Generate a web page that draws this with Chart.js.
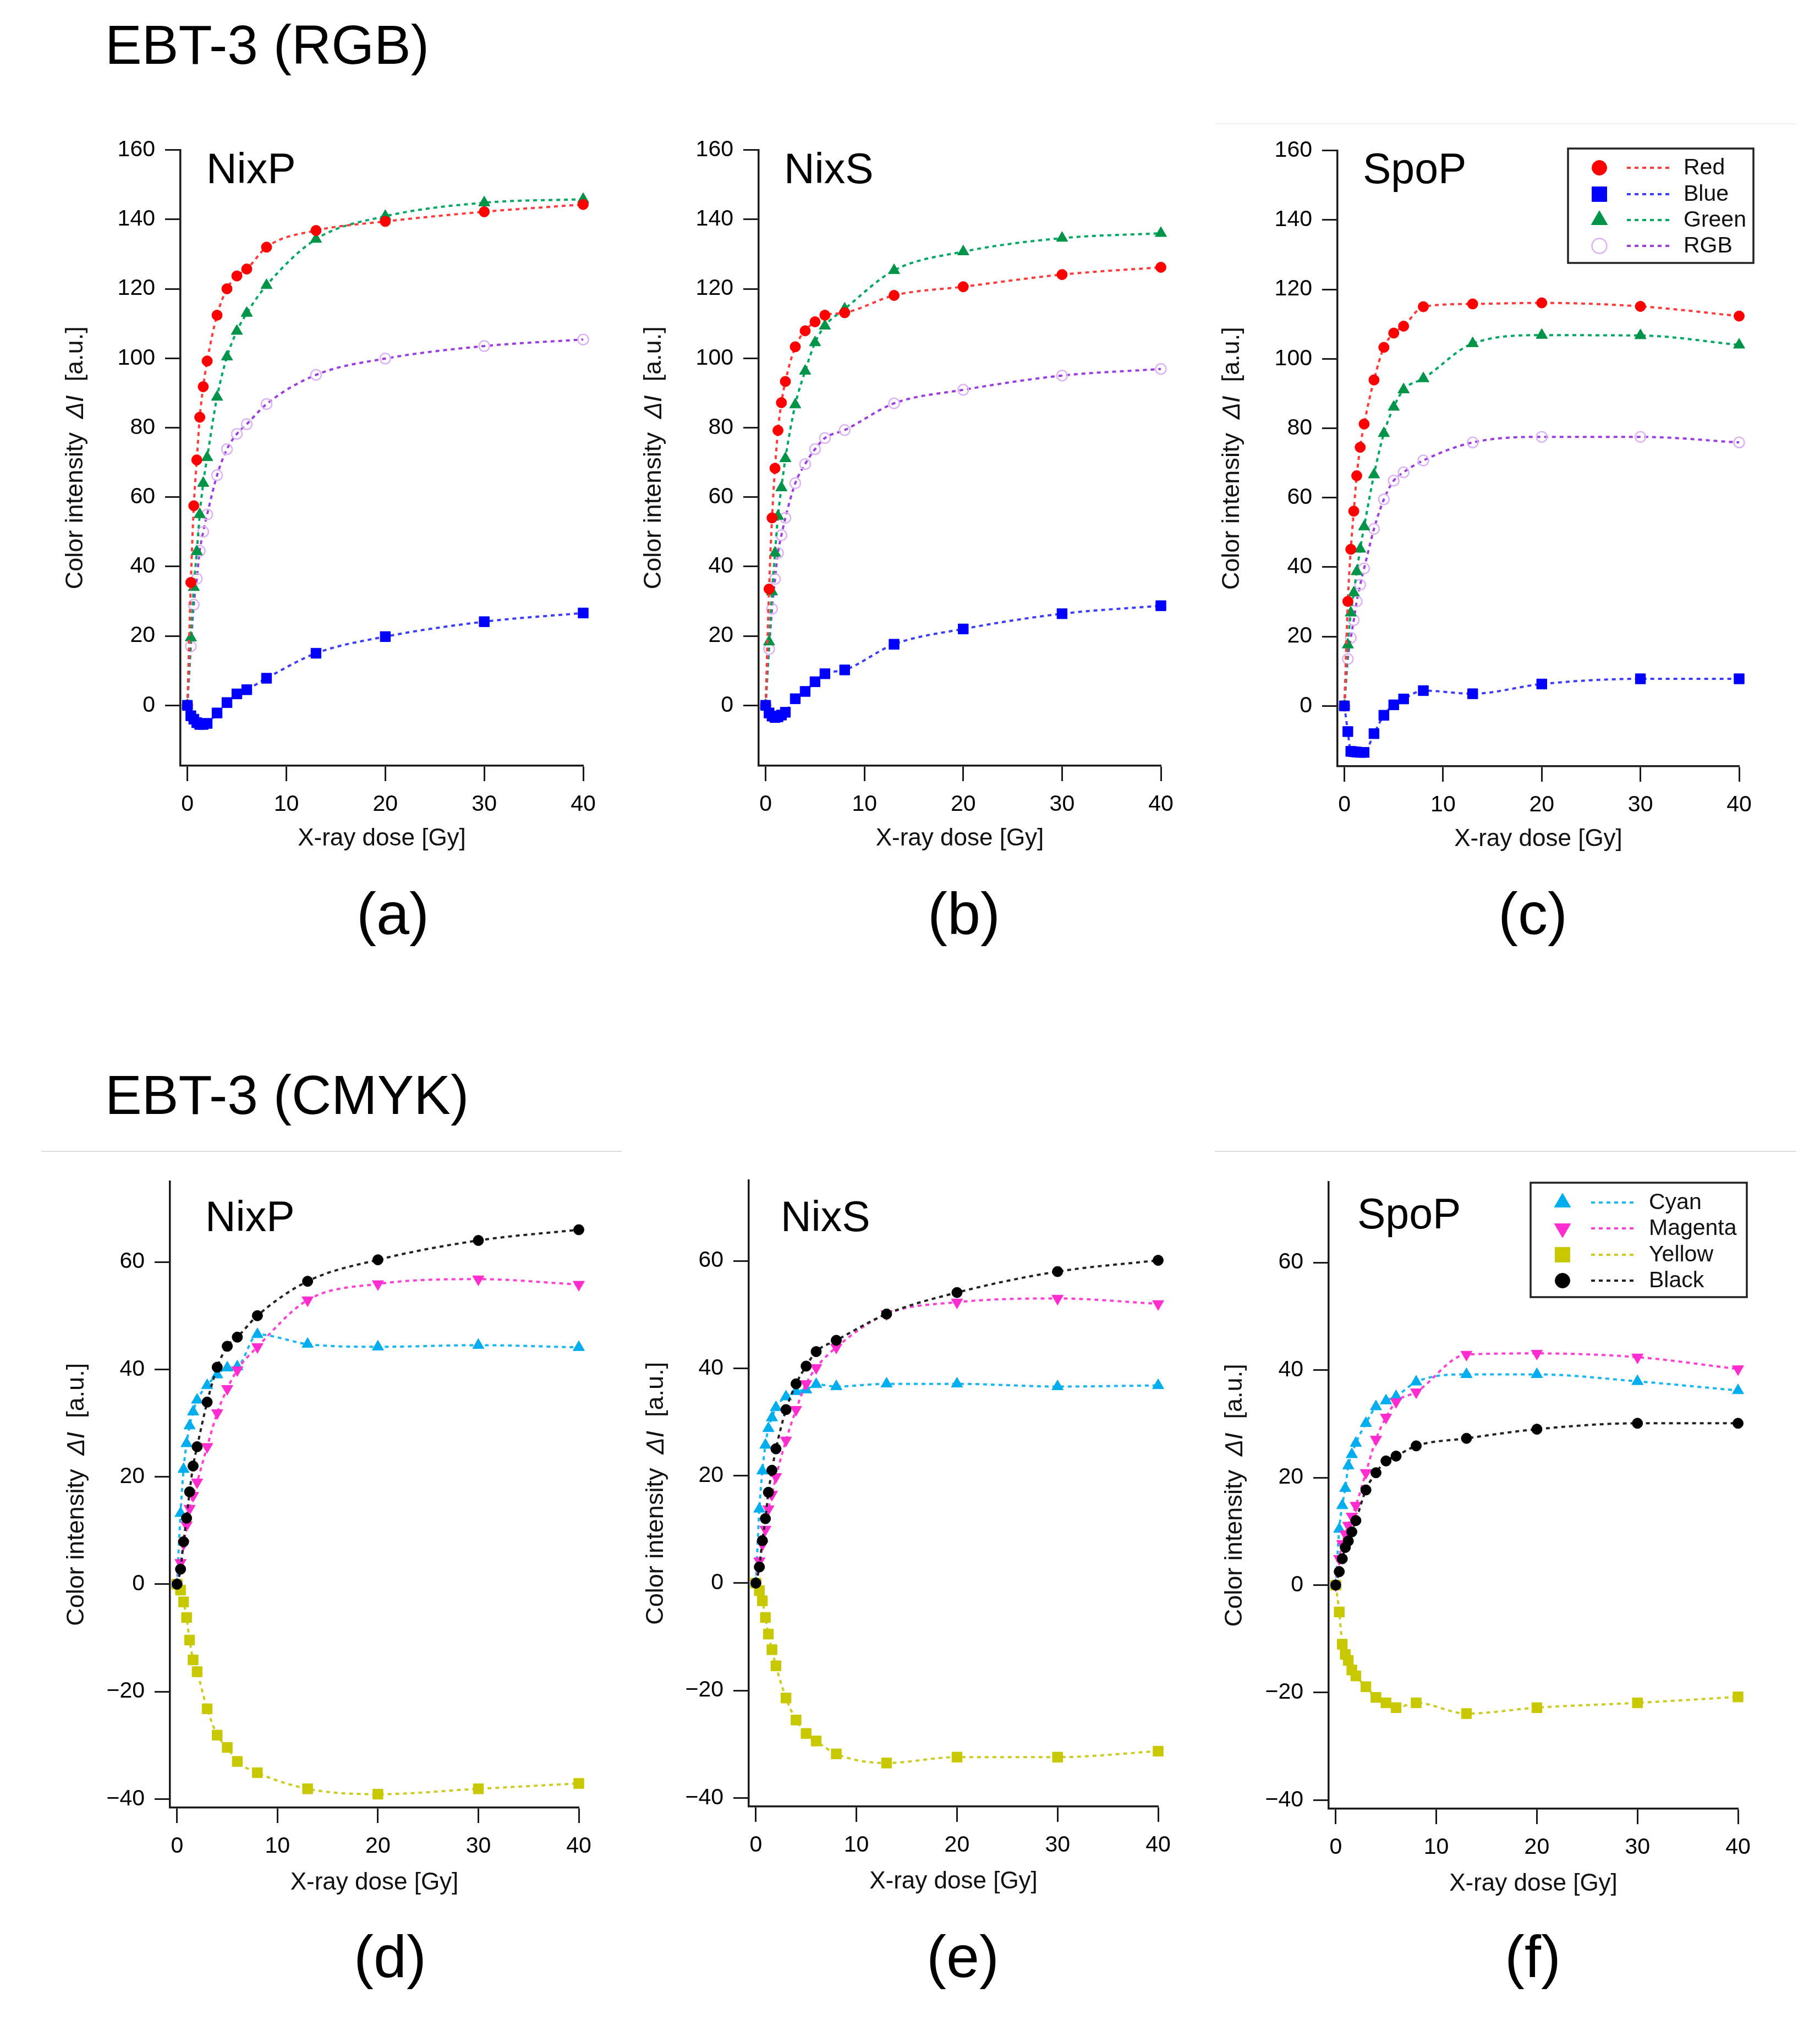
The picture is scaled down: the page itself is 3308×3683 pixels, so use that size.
<!DOCTYPE html>
<html>
<head>
<meta charset="utf-8">
<script src="https://cdn.jsdelivr.net/npm/chart.js@4.4.1/dist/chart.umd.min.js"></script>
<style>
  body { margin: 0; background: #fff; width: 3308px; height: 3683px; position: relative; overflow: hidden;
         font-family: "Liberation Sans", Arial, sans-serif; }
  .t { position: absolute; white-space: nowrap; color: #000; line-height: 1; }
  canvas { position: absolute; }
  .sep { position: absolute; height: 2px; background: #dedede; }
</style>
</head>
<body>
<div class="sep" style="left:2208px;top:224px;width:1057px;background:#f0f0f0"></div>
<div class="sep" style="left:75px;top:2092px;width:1055px"></div>
<div class="sep" style="left:2208px;top:2092px;width:1057px"></div>
<script>
// ---- data ----
const doses = [0, 0.35, 0.65, 0.95, 1.25, 1.6, 2, 3, 4, 5, 6, 8, 13, 20, 30, 40];
const xTicks = [0, 10, 20, 30, 40];
const yTicksRGB = [0, 20, 40, 60, 80, 100, 120, 140, 160];
const yTicksCMYK = [-40, -20, 0, 20, 40, 60];

// (a) NixP, RGB
const redA   = [0, 35.4, 57.5, 70.7, 83, 91.8, 99.2, 112.4, 120, 123.7, 125.7, 132, 136.8, 139.4, 142.2, 144.3];
const blueA  = [0, -3, -4, -5, -5.5, -5.5, -5.2, -2.2, 0.8, 3.3, 4.5, 7.8, 15, 19.8, 24.1, 26.6];
const greenA = [0, 19.5, 34, 44.3, 55, 64, 71.4, 88.8, 100.4, 107.8, 113, 121, 134.3, 140.9, 144.8, 145.8];
const rgbA   = [0, 17, 29, 36.5, 44.5, 50, 55, 66.3, 73.8, 78.2, 81, 86.8, 95.2, 99.9, 103.5, 105.4];
// (b) NixS, RGB
const redB   = [0, 33.5, 54, 68.3, 79.2, 87.2, 93.3, 103.3, 107.9, 110.5, 112.4, 113.1, 118.1, 120.6, 124.1, 126.2];
const blueB  = [0, -2.2, -3.1, -3.5, -3.3, -2.8, -2, 1.9, 4, 6.8, 9.1, 10.2, 17.6, 22, 26.4, 28.7];
const greenB = [0, 18.3, 32.7, 43.9, 54.5, 62.7, 71.1, 86.6, 96.3, 104.5, 109.3, 114.2, 125.3, 130.7, 134.6, 136];
const rgbB   = [0, 16.2, 27.8, 36.4, 43.9, 49, 54, 64, 69.5, 73.8, 77, 79.3, 87, 90.9, 95, 96.9];
// (c) SpoP, RGB
const redC   = [0, 30.1, 45.1, 56.1, 66.3, 74.5, 81.2, 93.9, 103.3, 107.4, 109.4, 115, 115.8, 116.1, 115.1, 112.3];
const blueC  = [0, -7.4, -13.1, -13.2, -13.3, -13.4, -13.4, -8, -2.7, 0.3, 2, 4.4, 3.5, 6.3, 7.8, 7.8];
const greenC = [0, 17.6, 26.8, 32.6, 38.7, 45.2, 51.6, 66.6, 78.5, 86.1, 91.1, 94.3, 104.4, 106.8, 106.7, 104];
const rgbC   = [0, 13.5, 19.6, 24.7, 30.1, 34.9, 39.6, 51, 59.5, 64.9, 67.3, 70.7, 75.9, 77.5, 77.5, 75.9];
// (d) NixP, CMYK
const cyanD    = [0, 13.2, 21.4, 26.2, 29.5, 32.1, 34.3, 37, 39, 40.3, 40.5, 46.5, 44.7, 44.2, 44.5, 44.1];
const magentaD = [0, 4, 7.5, 11, 14.1, 16.5, 19, 25.6, 31.9, 36.4, 39.9, 44.2, 52.9, 55.9, 56.8, 55.8];
const yellowD  = [0, -1.1, -3.3, -6.2, -10.4, -14.1, -16.3, -23.2, -28.1, -30.4, -33, -35.1, -38.1, -39.1, -38.1, -37.1];
const blackD   = [0, 2.8, 7.9, 12.3, 17.2, 22, 25.6, 33.9, 40.4, 44.3, 46, 50, 56.4, 60.4, 64, 66];
// (e) NixS, CMYK
const cyanE    = [0, 13.8, 20.9, 25.7, 28.8, 30.8, 32.7, 34.7, 35.7, 36, 37, 36.6, 37.1, 37.1, 36.6, 36.8];
const magentaE = [0, 4.1, 7.2, 10, 13.8, 16.5, 19.8, 26.6, 32.3, 37.1, 40.1, 43.9, 50.1, 52.3, 53, 52];
const yellowE  = [0, -1.4, -3.3, -6.4, -9.5, -12.4, -15.4, -21.4, -25.5, -28, -29.4, -31.8, -33.5, -32.4, -32.4, -31.3];
const blackE   = [0, 3, 7.9, 12, 16.9, 21, 25, 32.3, 37.1, 40.4, 43.1, 45.2, 50.1, 54.1, 58, 60.1];
// (f) SpoP, CMYK
const cyanF    = [0, 10.4, 14.8, 18, 22.2, 24.3, 26.4, 30.1, 33.2, 34.3, 35.1, 37.8, 39.2, 39.2, 37.9, 36.2];
const magentaF = [0, 4.9, 7.7, 9.5, 11.1, 12.8, 14.8, 20.9, 27.1, 31.2, 34.1, 35.9, 42.9, 43.1, 42.4, 40.2];
const yellowF  = [0, -5, -11, -12.9, -14, -15.8, -16.9, -18.9, -20.9, -21.9, -22.8, -21.9, -23.9, -22.8, -21.9, -20.8];
const blackF   = [0, 2.5, 4.9, 7, 8.2, 9.9, 12, 17.7, 20.9, 23.1, 24, 25.9, 27.3, 29, 30.1, 30.1];

// ---- styles ----
const FONT = '"Liberation Sans", Arial, sans-serif';
const STYLE = {
  Red:     { pt: 'circle',   r: 9.5, fill: '#ff0000', stroke: '#ff0000', line: '#ff3b3b', lr: 13.5, order: 1 },
  Blue:    { pt: 'rect',     r: 13,  fill: '#0000ff', stroke: '#0000ff', line: '#3c3cff', lr: 19, order: 0 },
  Green:   { pt: 'triangle', r: 12,  fill: '#009448', stroke: '#009448', line: '#00a862', lr: 17, order: 2 },
  RGB:     { pt: 'circle',   r: 9.5, fill: 'rgba(255,255,255,0)', stroke: '#dcb3f4', line: '#9c3de0', lr: 13.5, bw: 2.5, order: 3 },
  Cyan:    { pt: 'triangle', r: 12,  fill: '#00aeef', stroke: '#00aeef', line: '#1ab8f2', lr: 17, order: 3 },
  Magenta: { pt: 'triangle', r: 12,  rot: 180, fill: '#ff2ccf', stroke: '#ff2ccf', line: '#ff40d2', lr: 17, order: 2 },
  Yellow:  { pt: 'rect',     r: 13,  fill: '#c8c800', stroke: '#c8c800', line: '#cccc22', lr: 19, order: 1 },
  Black:   { pt: 'circle',   r: 9.5, fill: '#000000', stroke: '#000000', line: '#222222', lr: 13.5, order: 0 }
};

const panels = [
  { name: 'NixP', letter: '(a)', area: [328, 270, 1060, 1392], yRange: [-17.4, 160], yTicks: yTicksRGB, titleDx: 190, xH: 163,
    nameAt: [375, 268], letterAt: [714, 1607],
    series: [['Red', redA], ['Blue', blueA], ['Green', greenA], ['RGB', rgbA]] },
  { name: 'NixS', letter: '(b)', area: [1379, 270, 2110, 1392], yRange: [-17.4, 160], yTicks: yTicksRGB, titleDx: 190, xH: 163,
    nameAt: [1425, 268], letterAt: [1752, 1607],
    series: [['Red', redB], ['Blue', blueB], ['Green', greenB], ['RGB', rgbB]] },
  { name: 'SpoP', letter: '(c)', area: [2431, 271, 3161, 1393], yRange: [-17.4, 160], yTicks: yTicksRGB, titleDx: 191, xH: 163,
    nameAt: [2477, 268], letterAt: [2786, 1607],
    series: [['Red', redC], ['Blue', blueC], ['Green', greenC], ['RGB', rgbC]],
    legend: { box: [2850, 270, 3187, 478], rows: [305, 353, 400, 447], mx: 2907, l1: 2957, l2: 3038, tx: 3060 } },
  { name: 'NixP', letter: '(d)', area: [309, 2145, 1052, 3286], yRange: [-41.6, 75], yTicks: yTicksCMYK, titleDx: 169, xH: 167,
    nameAt: [373, 2173], letterAt: [709, 3503],
    series: [['Cyan', cyanD], ['Magenta', magentaD], ['Yellow', yellowD], ['Black', blackD]] },
  { name: 'NixS', letter: '(e)', area: [1361, 2143, 2105, 3284], yRange: [-41.6, 75], yTicks: yTicksCMYK, titleDx: 168, xH: 167,
    nameAt: [1419, 2173], letterAt: [1750, 3503],
    series: [['Cyan', cyanE], ['Magenta', magentaE], ['Yellow', yellowE], ['Black', blackE]] },
  { name: 'SpoP', letter: '(f)', area: [2415, 2146, 3159, 3288], yRange: [-41.6, 75], yTicks: yTicksCMYK, titleDx: 170, xH: 167,
    nameAt: [2467, 2168], letterAt: [2786, 3503],
    series: [['Cyan', cyanF], ['Magenta', magentaF], ['Yellow', yellowF], ['Black', blackF]],
    legend: { box: [2782, 2150, 3175, 2358], rows: [2186, 2233, 2281, 2328], mx: 2840, l1: 2892, l2: 2975, tx: 2997 } }
];

const PAD_T = 40, PAD_R = 60, AXIS = '#1a1a1a';

function addText(txt, left, top, size, center) {
  const d = document.createElement('div');
  d.className = 't';
  d.textContent = txt;
  d.style.fontSize = size + 'px';
  d.style.top = top + 'px';
  if (center) { d.style.left = (left - 200) + 'px'; d.style.width = '400px'; d.style.textAlign = 'center'; }
  else d.style.left = left + 'px';
  document.body.appendChild(d);
}

function marker(ctx, s, x, y, r) {
  ctx.save();
  ctx.translate(x, y);
  if (s.rot) ctx.rotate(s.rot * Math.PI / 180);
  ctx.beginPath();
  if (s.pt === 'circle') ctx.arc(0, 0, r, 0, Math.PI * 2);
  else if (s.pt === 'rect') { const h = r * Math.SQRT1_2; ctx.rect(-h, -h, 2 * h, 2 * h); }
  else { ctx.moveTo(0, -r); ctx.lineTo(r * 0.866, r / 2); ctx.lineTo(-r * 0.866, r / 2); ctx.closePath(); }
  ctx.fillStyle = s.fill; ctx.fill();
  ctx.lineWidth = s.bw || 1; ctx.strokeStyle = s.stroke; ctx.stroke();
  ctx.restore();
}

// y title with italic "ΔI", and the boxed legend
const decorPlugin = {
  id: 'decor',
  afterDraw(chart, args, o) {
    const ctx = chart.ctx, ca = chart.chartArea;
    const parts = [['Color intensity  ', 'normal'], ['ΔI', 'italic'], ['  [a.u.]', 'normal']];
    ctx.save();
    ctx.translate(ca.left - o.titleDx, (ca.top + ca.bottom) / 2);
    ctx.rotate(-Math.PI / 2);
    ctx.fillStyle = '#111'; ctx.textBaseline = 'middle'; ctx.textAlign = 'left';
    let total = 0;
    parts.forEach(p => { ctx.font = p[1] + ' 45px ' + FONT; total += ctx.measureText(p[0]).width; });
    let x = -total / 2;
    parts.forEach(p => { ctx.font = p[1] + ' 45px ' + FONT; ctx.fillText(p[0], x, 0); x += ctx.measureText(p[0]).width; });
    ctx.restore();

    const lg = o.legend;
    if (!lg) return;
    const ox = o.offset[0], oy = o.offset[1];
    ctx.save();
    ctx.fillStyle = '#fff';
    ctx.fillRect(lg.box[0] - ox, lg.box[1] - oy, lg.box[2] - lg.box[0], lg.box[3] - lg.box[1]);
    ctx.lineWidth = 3.5; ctx.strokeStyle = '#222';
    ctx.strokeRect(lg.box[0] - ox, lg.box[1] - oy, lg.box[2] - lg.box[0], lg.box[3] - lg.box[1]);
    chart.data.datasets.forEach((ds, i) => {
      const s = STYLE[ds.label], y = lg.rows[i] - oy;
      marker(ctx, s, lg.mx - ox, y, s.lr);
      ctx.beginPath();
      ctx.setLineDash([7, 7]); ctx.lineWidth = 4; ctx.strokeStyle = s.line;
      ctx.moveTo(lg.l1 - ox, y); ctx.lineTo(lg.l2 - ox, y); ctx.stroke();
      ctx.setLineDash([]);
      ctx.fillStyle = '#111'; ctx.font = '41px ' + FONT; ctx.textBaseline = 'middle'; ctx.textAlign = 'left';
      ctx.fillText(ds.label, lg.tx - ox, y + 1);
    });
    ctx.restore();
  }
};

function tickText(v) { return v < 0 ? '\u2212' + Math.abs(v) : String(v); }

function makePanel(p) {
  const [L, T, R, B] = p.area;
  const yW = p.titleDx + 30;
  const cl = L - yW, ct = T - PAD_T;
  const w = R + PAD_R - cl, h = B + p.xH - ct;
  const cv = document.createElement('canvas');
  cv.width = w; cv.height = h;
  cv.style.left = cl + 'px'; cv.style.top = ct + 'px';
  cv.style.width = w + 'px'; cv.style.height = h + 'px';
  document.body.appendChild(cv);

  const datasets = p.series.map(([label, vals]) => {
    const s = STYLE[label];
    return {
      label: label,
      data: doses.map((d, i) => ({ x: d, y: vals[i] })),
      borderColor: s.line,
      borderWidth: 4,
      borderDash: [7, 7],
      cubicInterpolationMode: 'monotone',
      pointStyle: s.pt,
      pointRotation: s.rot || 0,
      pointRadius: s.r,
      pointBackgroundColor: s.fill,
      pointBorderColor: s.stroke,
      pointBorderWidth: s.bw || 1,
      order: s.order,
      clip: false
    };
  });

  new Chart(cv, {
    type: 'line',
    data: { datasets: datasets },
    plugins: [decorPlugin],
    options: {
      responsive: false,
      animation: false,
      events: [],
      layout: { padding: { top: PAD_T, right: PAD_R, left: 0, bottom: 0 } },
      plugins: {
        legend: { display: false },
        tooltip: { enabled: false },
        decor: { titleDx: p.titleDx, legend: p.legend, offset: [cl, ct] }
      },
      scales: {
        x: {
          type: 'linear', min: -0.7, max: 40,
          afterBuildTicks: s => { s.ticks = xTicks.map(v => ({ value: v })); },
          afterFit: s => { s.height = p.xH; },
          grid: { drawOnChartArea: false, drawTicks: true, tickLength: 28, tickWidth: 3, tickColor: AXIS },
          border: { display: true, width: 3.5, color: AXIS },
          ticks: { color: '#000', font: { family: FONT, size: 41 }, padding: 18, maxRotation: 0, autoSkip: false,
                   callback: v => tickText(v) },
          title: { display: true, text: 'X-ray dose [Gy]', color: '#111', font: { family: FONT, size: 44 },
                   padding: { top: 0, bottom: 4 } }
        },
        y: {
          min: p.yRange[0], max: p.yRange[1],
          afterBuildTicks: s => { s.ticks = p.yTicks.map(v => ({ value: v })); },
          afterFit: s => { s.width = yW; },
          grid: { drawOnChartArea: false, drawTicks: true, tickLength: 28, tickWidth: 3, tickColor: AXIS },
          border: { display: true, width: 3.5, color: AXIS },
          ticks: { color: '#000', font: { family: FONT, size: 41 }, padding: 18, autoSkip: false,
                   callback: v => tickText(v) }
        }
      }
    }
  });

  addText(p.name, p.nameAt[0], p.nameAt[1], 77);
  addText(p.letter, p.letterAt[0], p.letterAt[1], 108, true);
}

addText('EBT-3 (RGB)', 191, 31, 100);
addText('EBT-3 (CMYK)', 191, 1940, 100);
panels.forEach(makePanel);
</script>
</body>
</html>
